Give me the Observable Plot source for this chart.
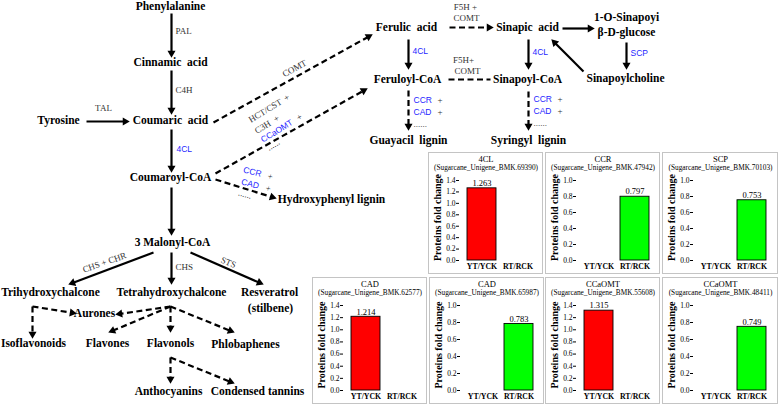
<!DOCTYPE html>
<html><head><meta charset="utf-8">
<script src="https://cdn.jsdelivr.net/npm/d3@7"></script>
<script src="https://cdn.jsdelivr.net/npm/@observablehq/plot@0.6"></script>
<style>
body{margin:0;background:#fff;}
#wrap{position:relative;width:778px;height:406px;overflow:hidden;background:#fff;}
#wrap svg{display:block;font-family:"Liberation Serif","Times New Roman",serif;}
#wrap svg text{font-family:"Liberation Serif","Times New Roman",serif;}
#wrap svg g.sans text{font-family:"Liberation Sans",Arial,sans-serif;}
.panel{position:absolute;}
</style></head><body><div id="wrap"></div>
<script>
// ---------- bar chart data ----------
const categories = ["YT/YCK", "RT/RCK"];
const genes = ["4CL", "CCR", "SCP", "CAD", "CAD", "CCaOMT", "CCaOMT"];
const unigenes = ["Sugarcane_Unigene_BMK.69390", "Sugarcane_Unigene_BMK.47942", "Sugarcane_Unigene_BMK.70103",
  "Sugarcane_Unigene_BMK.62577", "Sugarcane_Unigene_BMK.65987", "Sugarcane_Unigene_BMK.55608", "Sugarcane_Unigene_BMK.48411"];
const ytYck = [1.263, null, null, 1.214, null, 1.315, null];
const rtRck = [null, 0.797, 0.753, null, 0.783, null, 0.749];
const yMax = [1.4, 1.0, 1.0, 1.4, 1.0, 1.4, 1.0];
const ticksHigh = [0, 0.2, 0.4, 0.6, 0.8, 1.0, 1.2, 1.4];
const ticksLow = [0, 0.2, 0.4, 0.6, 0.8, 1.0];
const yLabel = "Proteins fold change";

// ---------- pathway diagram ----------
const metabolites = [
  {label: "Phenylalanine", x: 170, y: 6},
  {label: "Cinnamic  acid", x: 170, y: 62},
  {label: "Coumaric  acid", x: 170, y: 120},
  {label: "Tyrosine", x: 58, y: 120},
  {label: "Coumaroyl-CoA", x: 170, y: 177},
  {label: "3 Malonyl-CoA", x: 172, y: 242},
  {label: "Trihydroxychalcone", x: 50, y: 292},
  {label: "Tetrahydroxychalcone", x: 171, y: 292},
  {label: "Resveratrol", x: 269, y: 292},
  {label: "(stilbene)", x: 270, y: 308},
  {label: "Aurones", x: 94, y: 313},
  {label: "Isoflavonoids", x: 33, y: 343},
  {label: "Flavones", x: 107, y: 343},
  {label: "Flavonols", x: 170, y: 343},
  {label: "Phlobaphenes", x: 245, y: 344},
  {label: "Anthocyanins", x: 168, y: 391},
  {label: "Condensed tannins", x: 257, y: 391},
  {label: "Hydroxyphenyl lignin", x: 331, y: 199},
  {label: "Ferulic  acid", x: 406, y: 27},
  {label: "Feruloyl-CoA", x: 407, y: 79},
  {label: "Guayacil  lignin", x: 408, y: 140},
  {label: "Sinapic  acid", x: 527, y: 27},
  {label: "Sinapoyl-CoA", x: 527, y: 79},
  {label: "Syringyl  lignin", x: 528, y: 140},
  {label: "1-O-Sinapoyi", x: 626, y: 17},
  {label: "β-D-glucose", x: 626, y: 32},
  {label: "Sinapoylcholine", x: 625, y: 78}
];
// enzyme labels: key = highlighted (blue); plus = offset of a trailing "+"
const enzymes = [
  {text: "PAL", x: 175, y: 31, rot: 0, key: false},
  {text: "C4H", x: 175, y: 90, rot: 0, key: false},
  {text: "4CL", x: 176, y: 149, rot: 0, key: true},
  {text: "CHS", x: 175, y: 267, rot: 0, key: false},
  {text: "4CL", x: 412, y: 51, rot: 0, key: true},
  {text: "4CL", x: 532, y: 52, rot: 0, key: true},
  {text: "SCP", x: 630, y: 53, rot: 0, key: true},
  {text: "CCR", x: 413, y: 100, rot: 0, key: true, plus: 24},
  {text: "CAD", x: 413, y: 112, rot: 0, key: true, plus: 24},
  {text: "......", x: 413, y: 124, rot: 0, key: false},
  {text: "CCR", x: 533, y: 99, rot: 0, key: true, plus: 24},
  {text: "CAD", x: 533, y: 111, rot: 0, key: true, plus: 24},
  {text: "......", x: 533, y: 123, rot: 0, key: false},
  {text: "HCT/CST", x: 249, y: 120, rot: -31.5, key: false, plus: 41},
  {text: "C3H", x: 255, y: 131, rot: -31.5, key: false, plus: 22},
  {text: "CCaOMT", x: 261, y: 140, rot: -31.5, key: true, plus: 42},
  {text: "......", x: 267, y: 148, rot: -31.5, key: false},
  {text: "CCR", x: 243, y: 169, rot: 15, key: true, plus: 25},
  {text: "CAD", x: 241, y: 181, rot: 15, key: true, plus: 25},
  {text: "......", x: 238, y: 192, rot: 15, key: false}
];
const centredEnzymes = [
  {text: "TAL", x: 103, y: 108, rot: 0},
  {text: "CHS + CHR", x: 104, y: 262, rot: -19},
  {text: "STS", x: 228, y: 262, rot: 22},
  {text: "COMT", x: 294, y: 68, rot: -29},
  {text: "F5H +", x: 465, y: 7, rot: 0},
  {text: "COMT", x: 466, y: 18, rot: 0},
  {text: "F5H+", x: 463, y: 60, rot: 0},
  {text: "COMT", x: 467, y: 71, rot: 0}
];
const solidArrows = [
  [171, 13, 171, 57], [171, 70, 171, 114], [86, 121, 129, 121], [171, 129, 171, 172],
  [171, 187, 171, 235], [153, 252, 68, 284], [171, 252, 171, 284], [190, 252, 263, 284],
  [408, 39, 408, 69], [562, 28, 594, 28], [528, 39, 528, 69], [626, 42, 626, 69], [583, 71, 551, 39]
];
const dashedArrows = [
  [213, 122, 372, 34], [215, 173, 367, 88], [215, 179, 276, 198], [449, 27, 493, 27],
  [408, 90, 408, 130], [528, 91, 528, 130],
  [32, 306, 32, 338], [32, 306, 76, 313],
  [170, 306, 115, 314], [170, 306, 108, 332], [170, 306, 170, 332], [170, 306, 234, 332],
  [170, 357, 170, 383], [170, 357, 234, 383]
];
const dashedLines = [[448, 79, 490, 79]];

// ---------- layout (not data) ----------
const SERIF = "Liberation Serif";
const SANS = "Liberation Sans";
const GRAY = "#333333", BLUE = "#1f1fff";
const PANELS = [[428, 152, 115, 122], [545, 152, 115, 122], [662, 152, 116, 122],
  [312, 277, 115, 127], [429, 277, 115, 127], [545, 277, 115, 127], [662, 277, 116, 127]];

const wrap = document.getElementById("wrap");

function seg(e, back) {
  const [x1, y1, x2, y2] = e;
  const L = Math.hypot(x2 - x1, y2 - y1), ux = (x2 - x1) / L, uy = (y2 - y1) / L;
  return {x1, y1, x2: x2 - ux * back, y2: y2 - uy * back,
    hx: x2 - ux * 4.4, hy: y2 - uy * 4.4, a: Math.atan2(ux, -uy) * 180 / Math.PI};
}
const solidSeg = solidArrows.map(e => seg(e, 5));
const dashSeg = dashedArrows.map(e => seg(e, 5));
const lineSeg = dashedLines.map(e => seg(e, 0));
const heads = solidSeg.concat(dashSeg);

const plusMarks = enzymes.filter(d => d.plus).map(d => {
  const r = d.rot * Math.PI / 180;
  return {text: "+", x: d.x + d.plus * Math.cos(r), y: d.y + d.plus * Math.sin(r), rot: d.rot};
});

const diagram = Plot.plot({
  width: 778, height: 406, margin: 0,
  x: {type: "identity", axis: null}, y: {type: "identity", axis: null},
  color: {type: "identity"},
  style: {background: "#fff", overflow: "visible"},
  marks: [
    Plot.link(solidSeg, {x1: "x1", y1: "y1", x2: "x2", y2: "y2", stroke: "#000", strokeWidth: 2.2}),
    Plot.link(dashSeg, {x1: "x1", y1: "y1", x2: "x2", y2: "y2", stroke: "#000", strokeWidth: 2.2, strokeDasharray: "6,3.5"}),
    Plot.link(lineSeg, {x1: "x1", y1: "y1", x2: "x2", y2: "y2", stroke: "#000", strokeWidth: 2.2, strokeDasharray: "6,3.5"}),
    Plot.dot(heads, {x: "hx", y: "hy", rotate: "a", symbol: "triangle", r: 3, fill: "#000", stroke: "none"}),
    Plot.text(metabolites, {x: "x", y: "y", text: "label", fontFamily: SERIF, fontWeight: "bold", fontSize: 11.5, fill: "#000"}),
    Plot.text(enzymes.filter(d => !d.key), {x: "x", y: "y", text: "text", rotate: "rot", textAnchor: "start", fontFamily: SERIF, fontSize: 9, fill: GRAY}),
    Plot.text(enzymes.filter(d => d.key), {x: "x", y: "y", text: "text", rotate: "rot", textAnchor: "start", fontFamily: SANS, className: "sans", fontSize: 8.5, fill: BLUE}),
    Plot.text(plusMarks, {x: "x", y: "y", text: "text", rotate: "rot", textAnchor: "start", fontFamily: SERIF, fontSize: 9, fill: GRAY}),
    Plot.text(centredEnzymes, {x: "x", y: "y", text: "text", rotate: "rot", fontFamily: SERIF, fontSize: 9, fill: GRAY})
  ]
});
wrap.appendChild(diagram);

// ---------- bar panels ----------
genes.forEach((gene, i) => {
  const [left, top, w, h] = PANELS[i];
  const rows = categories.map((c, j) => ({category: c, value: j === 0 ? ytYck[i] : rtRck[i]}))
    .filter(d => d.value != null);
  const ticks = yMax[i] > 1.2 ? ticksHigh : ticksLow;
  const ml = 31, mr = 4, mt = 28, mb = 14;
  const chart = Plot.plot({
    width: w, height: h, marginLeft: ml, marginRight: mr, marginTop: mt, marginBottom: mb,
    style: {background: "#fff", overflow: "visible", color: "#000",
      outline: "1px solid #c4c4c4", outlineOffset: "-1px"},
    x: {domain: categories, padding: 0.2},
    y: {domain: [0, yMax[i]]},
    color: {type: "identity"},
    marks: [
      Plot.barY(rows, {x: "category", y: "value", fill: d => d.category === categories[0] ? "#ff0000" : "#00ff00",
        stroke: "#000", strokeWidth: 0.9}),
      Plot.axisY({ticks, tickFormat: d3.format(".1f"), tickSize: 3, tickPadding: 1, fontFamily: SERIF, fontSize: 7.5, label: null, line: true}),
      Plot.axisX({tickSize: 0, tickPadding: 3, fontFamily: SERIF, fontSize: 7.8, fontWeight: "bold", label: null, line: true}),
      Plot.text(rows, {x: "category", y: "value", text: d => d.value.toFixed(3), dy: -5, fontFamily: SERIF, fontSize: 8.5}),
      Plot.text([gene], {frameAnchor: "top", lineAnchor: "middle", textAnchor: "middle", text: d => d,
        dy: -(mt - 7), dx: (mr - ml) / 2, fontFamily: SERIF, fontSize: 8.5}),
      Plot.text([`(${unigenes[i]})`], {frameAnchor: "top", lineAnchor: "middle", textAnchor: "middle", text: d => d,
        dy: -(mt - 15), dx: (mr - ml) / 2, fontFamily: SERIF, fontSize: 7.3}),
      Plot.text([yLabel], {frameAnchor: "left", lineAnchor: "middle", textAnchor: "middle", text: d => d, rotate: -90,
        dx: -22, dy: -3, fontFamily: SERIF, fontSize: 10, fontWeight: "bold"})
    ]
  });
  const holder = document.createElement("div");
  holder.className = "panel";
  holder.style.left = left + "px";
  holder.style.top = top + "px";
  holder.appendChild(chart);
  wrap.appendChild(holder);
});
</script></body></html>
